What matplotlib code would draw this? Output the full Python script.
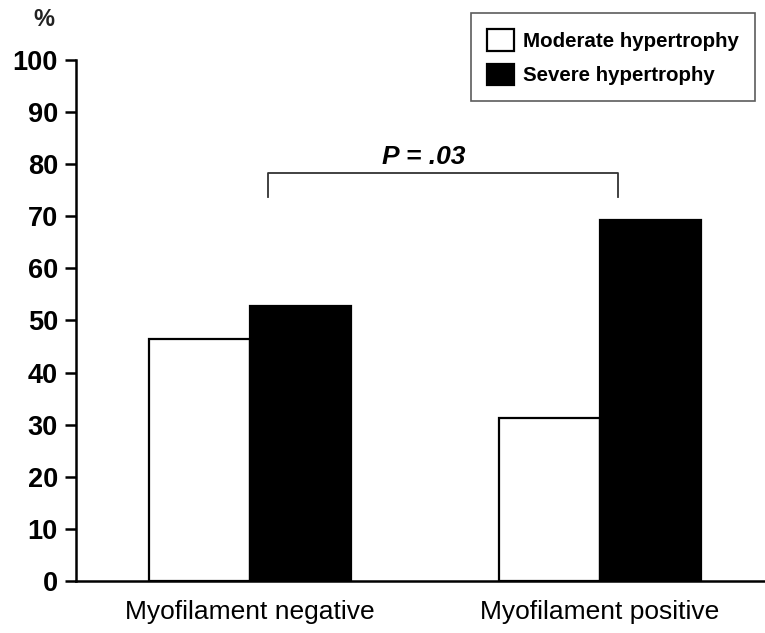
import matplotlib
matplotlib.use("Agg")
import matplotlib.pyplot as plt
import numpy as np

plt.rcParams['font.family'] = ['Liberation Sans', 'DejaVu Sans']

categories = ["Myofilament negative", "Myofilament positive"]
series_names = ["Moderate hypertrophy", "Severe hypertrophy"]
moderate = [46.5, 31.3]
severe = [52.7, 69.2]
yticks = [0, 10, 20, 30, 40, 50, 60, 70, 80, 90, 100]
p_text = "P = .03"

fig = plt.figure(figsize=(7.65, 6.33), dpi=100)
ax = fig.add_axes([0.0993, 0.0822, 0.9007, 0.8230])

x = np.arange(len(categories))
w = 0.289
ax.bar(x - w / 2, moderate, width=w, color='white', edgecolor='black', linewidth=1.6,
       label=series_names[0], zorder=2)
ax.bar(x + w / 2, severe, width=w, color='black', edgecolor='black', linewidth=1.6,
       label=series_names[1], zorder=2)

ax.set_xlim(-0.497, 1.471)
ax.set_ylim(0, 100)
ax.set_yticks(yticks)
ax.set_yticklabels([str(t) for t in yticks], fontsize=19.5, fontweight='bold')
ax.set_xticks(x)
ax.set_xticklabels(categories, fontsize=19)
ax.tick_params(axis='x', length=0, pad=14)
ax.tick_params(axis='y', direction='out', length=8, width=1.8, pad=5)

for s in ['top', 'right']:
    ax.spines[s].set_visible(False)
for s in ['left', 'bottom']:
    ax.spines[s].set_linewidth(1.8)

fig.text(44 / 765, 1 - 20 / 633, "%", fontsize=17, fontweight='bold',
         ha='center', va='center', color='#222222')

# significance bracket
bx0, bx1 = x[0] + 0.051, x[1] + 0.051
ytop, ybot = 78.3, 73.7
ax.plot([bx0, bx0, bx1, bx1], [ybot, ytop, ytop, ybot], color='#333333', lw=1.3, zorder=3)
ax.text((bx0 + bx1) / 2 - 0.055, ytop + 0.8, p_text, fontsize=19, fontweight='bold',
        style='italic', ha='center', va='bottom')

leg = ax.legend(loc='upper right', bbox_to_anchor=(0.9855, 1.090),
                prop={'weight': 'bold', 'size': 14.8}, frameon=True, fancybox=False,
                edgecolor='#333333', handlelength=1.3, handleheight=1.25,
                borderpad=0.78, labelspacing=0.62, handletextpad=0.45,
                borderaxespad=0)
leg.get_frame().set_linewidth(1.2)

fig.savefig("out.png", dpi=100)
